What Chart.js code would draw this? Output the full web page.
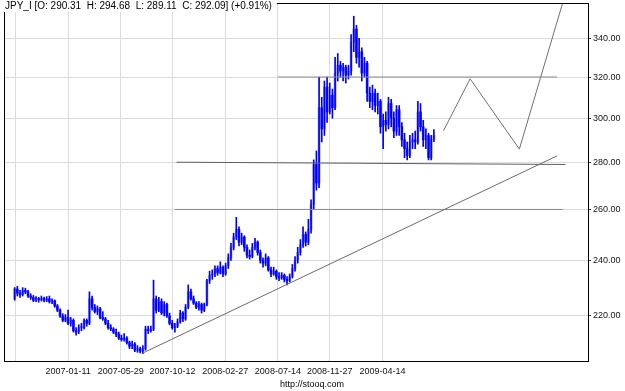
<!DOCTYPE html>
<html>
<head>
<meta charset="utf-8">
<title>JPY_I</title>
<script src="https://cdn.jsdelivr.net/npm/chart.js@4.4.0/dist/chart.umd.min.js"></script>
<style>
  html, body { margin: 0; padding: 0; background: #fff; }
</style>
</head>
<body>
<canvas id="myChart" width="625" height="391"></canvas>
<script>
// notowania tygodniowe JPY_I (pierwszy tydzien)
var firstWeek = '2006-08-24';

var openP = [
  226.0, 229.5, 228.0, 227.5, 229.0, 228.5, 227.0, 226.5, 225.5, 226.0,
  225.8, 226.2, 225.5, 226.0, 225.0, 225.3, 223.5, 222.0, 220.0, 218.5,
  219.5, 217.5, 218.5, 215.0, 214.5, 216.0, 216.0, 218.5, 217.5, 226.0,
  223.0, 221.5, 222.5, 219.5, 219.0, 217.5, 216.0, 215.5, 214.5, 213.8,
  212.5, 212.0, 212.5, 211.0, 209.8, 210.5, 208.5, 209.0, 208.2, 209.0,
  215.5, 215.0, 215.5, 226.0, 222.0, 225.0, 221.0, 224.0, 220.0, 217.5,
  216.0, 216.5, 218.0, 221.0, 219.0, 223.0, 228.5, 226.0, 224.5, 223.0,
  224.0, 222.0, 224.0, 232.5, 234.5, 235.0, 237.0, 235.5, 237.5, 235.0,
  238.0, 241.0, 245.0, 249.0, 252.0, 247.0, 249.0, 245.0, 242.0, 241.5,
  245.0, 247.0, 243.0, 240.0, 239.0, 241.0, 236.5, 235.0, 236.0, 234.0,
  233.5, 234.5, 233.0, 232.5, 234.0, 237.0, 240.0, 243.0, 246.0, 250.0,
  247.0, 252.0, 262.0, 279.0, 271.0, 305.0, 295.0, 315.0, 303.0, 311.0,
  305.0, 322.0, 326.0, 323.0, 325.0, 321.0, 323.0, 338.0, 345.0, 330.0,
  333.0, 322.0, 327.0, 312.0, 308.0, 312.0, 306.0, 308.0, 296.0, 299.0,
  297.0, 307.0, 300.0, 294.0, 304.0, 296.0, 290.0, 286.0, 283.0, 289.0,
  290.0, 289.0, 303.0, 296.0, 290.0, 292.0, 282.0, 290.31
];
var highP = [
  230.0, 230.5, 229.0, 230.0, 229.8, 229.0, 227.8, 227.2, 226.8, 226.5,
  227.0, 226.6, 226.8, 227.0, 226.0, 225.6, 224.0, 222.5, 220.8, 220.5,
  222.0, 219.5, 219.0, 216.0, 217.0, 217.5, 219.0, 219.0, 228.5, 227.0,
  224.0, 223.5, 223.0, 221.5, 219.5, 218.5, 217.0, 216.0, 215.5, 214.5,
  213.5, 214.0, 213.0, 211.5, 211.5, 211.0, 210.0, 209.5, 210.0, 216.5,
  216.5, 216.5, 232.7, 227.0, 226.5, 226.0, 225.0, 224.5, 221.0, 218.5,
  217.5, 219.0, 222.0, 221.5, 224.0, 231.0, 229.5, 227.0, 225.0, 225.0,
  224.5, 224.5, 233.0, 236.0, 236.5, 238.0, 238.0, 239.5, 238.0, 239.0,
  242.5, 246.5, 250.5, 256.8, 253.0, 250.5, 249.5, 246.0, 244.0, 246.5,
  248.5, 247.5, 244.0, 241.0, 242.5, 241.5, 237.5, 237.5, 236.5, 235.5,
  235.5, 235.0, 234.0, 235.0, 238.5, 241.5, 245.0, 248.0, 253.0, 251.0,
  256.0, 264.0, 281.0, 285.0, 320.0, 310.0, 318.0, 320.0, 317.0, 314.0,
  330.0, 332.0, 328.0, 327.0, 326.0, 326.0, 342.0, 352.0, 347.0, 340.0,
  335.0, 330.0, 328.0, 315.0, 316.0, 314.0, 312.0, 309.0, 302.0, 303.0,
  310.0, 309.0, 303.0, 306.0, 306.0, 298.0, 293.0, 289.0, 292.0, 293.0,
  294.0, 308.0, 307.0, 299.0, 295.0, 293.0, 292.0, 294.68
];
var lowP = [
  225.5, 227.0, 226.5, 227.0, 227.8, 226.5, 225.8, 225.0, 225.0, 224.8,
  225.2, 224.9, 225.0, 224.5, 224.3, 223.0, 221.5, 219.5, 218.0, 218.0,
  217.0, 216.5, 214.5, 213.5, 214.0, 215.0, 215.5, 216.5, 217.0, 222.0,
  221.0, 220.5, 219.0, 218.5, 217.0, 215.5, 215.0, 214.0, 213.0, 212.0,
  211.5, 211.5, 210.5, 209.0, 209.0, 208.0, 207.8, 207.6, 207.4, 208.5,
  214.0, 214.5, 215.0, 221.0, 221.5, 220.5, 220.0, 219.5, 217.0, 215.5,
  214.5, 216.0, 217.5, 218.0, 218.5, 222.5, 225.5, 224.0, 222.5, 222.0,
  221.0, 221.5, 223.5, 231.5, 233.0, 234.0, 234.5, 235.0, 234.0, 234.5,
  237.0, 240.0, 244.0, 248.0, 245.5, 246.0, 243.5, 241.0, 240.5, 241.0,
  244.0, 242.0, 239.0, 237.5, 238.0, 236.0, 234.0, 234.5, 233.0, 232.5,
  233.0, 232.0, 231.0, 232.0, 233.5, 236.0, 239.0, 242.0, 245.0, 245.5,
  246.0, 250.5, 260.0, 268.0, 269.0, 289.0, 292.0, 298.0, 302.0, 300.0,
  304.0, 318.0, 320.0, 318.0, 317.0, 319.0, 321.0, 333.0, 327.0, 325.0,
  318.0, 320.0, 308.0, 305.0, 304.0, 303.0, 302.0, 293.0, 286.0, 294.0,
  295.0, 296.0, 291.0, 292.0, 292.0, 287.0, 282.0, 281.0, 282.0, 286.0,
  286.0, 288.0, 294.0, 287.0, 286.0, 281.0, 281.0, 289.11
];
var closeP = [
  229.5, 228.0, 227.5, 229.0, 228.5, 227.0, 226.5, 225.5, 226.0, 225.8,
  226.2, 225.5, 226.0, 225.0, 225.3, 223.5, 222.0, 220.0, 218.5, 219.5,
  217.5, 218.5, 215.0, 214.5, 216.0, 216.0, 218.5, 217.5, 226.0, 223.0,
  221.5, 222.5, 219.5, 219.0, 217.5, 216.0, 215.5, 214.5, 213.8, 212.5,
  212.0, 212.5, 211.0, 209.8, 210.5, 208.5, 209.0, 208.2, 209.0, 215.5,
  215.0, 215.5, 226.0, 222.0, 225.0, 221.0, 224.0, 220.0, 217.5, 216.0,
  216.5, 218.0, 221.0, 219.0, 223.0, 228.5, 226.0, 224.5, 223.0, 224.0,
  222.0, 224.0, 232.5, 234.5, 235.0, 237.0, 235.5, 237.5, 235.0, 238.0,
  241.0, 245.0, 249.0, 252.0, 247.0, 249.0, 245.0, 242.0, 241.5, 245.0,
  247.0, 243.0, 240.0, 239.0, 241.0, 236.5, 235.0, 236.0, 234.0, 233.5,
  234.5, 233.0, 232.5, 234.0, 237.0, 240.0, 243.0, 246.0, 250.0, 247.0,
  252.0, 262.0, 279.0, 271.0, 305.0, 295.0, 315.0, 303.0, 311.0, 305.0,
  322.0, 326.0, 323.0, 325.0, 321.0, 323.0, 338.0, 345.0, 330.0, 333.0,
  322.0, 327.0, 312.0, 308.0, 312.0, 306.0, 308.0, 296.0, 299.0, 297.0,
  307.0, 300.0, 294.0, 304.0, 296.0, 290.0, 286.0, 283.0, 289.0, 290.0,
  289.0, 303.0, 296.0, 290.0, 292.0, 282.0, 290.31, 292.09
];

// opis osi
var tickDates = ['2006-08-26', '2007-01-11', '2007-05-29', '2007-10-12', '2008-02-27', '2008-07-14', '2008-11-27', '2009-04-14'];
var tickLabels = ['', '2007-01-11', '2007-05-29', '2007-10-12', '2008-02-27', '2008-07-14', '2008-11-27', '2009-04-14'];
var yTicks = [220, 240, 260, 280, 300, 320, 340];
var xRange = ['2006-07-27', '2010-10-05'];
var yRange = [205, 359.4];

// linie narysowane na wykresie
var trendLine = [['2007-07-23', 207.4], ['2010-07-16', 282.8]];
var level320 = [['2008-07-14', 320], ['2010-07-16', 320]];
var level280 = [['2007-10-22', 280], ['2010-08-07', 279]];
var level260 = [['2007-10-18', 260], ['2010-07-31', 260]];
var zigzag = [['2009-09-21', 294.1], ['2009-11-30', 319.1], ['2010-04-08', 285.8], ['2010-07-30', 359]];

var header = 'JPY_I [O: 290.31  H: 294.68  L: 289.11  C: 292.09] (+0.91%)';
var footer = 'http://stooq.com';

var fontFam = "Arial, 'Liberation Sans', sans-serif";

// dzien liczony od 2007-01-11
function dayNum(s) {
    var p = s.split('-');
    return (Date.UTC(+p[0], +p[1] - 1, +p[2]) - Date.UTC(2007, 0, 11)) / 86400000;
}
function toXY(arr) {
    return arr.map(function (a) { return { x: dayNum(a[0]), y: a[1] }; });
}

var start = dayNum(firstWeek);
var wicks = [], bodies = [], bodyColors = [];
for (var i = 0; i < closeP.length; i++) {
    var x = start + 7 * i;
    wicks.push({ x: x, y: [lowP[i], highP[i]] });
    bodies.push({ x: x, y: [Math.min(openP[i], closeP[i]), Math.max(openP[i], closeP[i])] });
    bodyColors.push(closeP[i] >= openP[i] ? '#8a8aff' : '#1a1aff');
}
var tickDays = tickDates.map(dayNum);

function drawLine(arr, color) {
    return {
        type: 'line', data: toXY(arr), borderColor: color, borderWidth: 1,
        pointRadius: 0, fill: false, tension: 0, order: 0
    };
}

// ramka, naglowek i stopka
var decor = {
    id: 'decor',
    afterDraw: function (chart) {
        var c = chart.ctx, a = chart.chartArea;
        c.save();
        c.strokeStyle = '#000';
        c.lineWidth = 1;
        c.strokeRect(a.left + 0.5, a.top + 0.5, a.right - a.left, a.bottom - a.top);
        c.font = '10px ' + fontFam;
        var w = c.measureText(header).width;
        c.fillStyle = '#fff';
        c.fillRect(0, 0, w + 10, 12);
        c.fillStyle = '#000';
        c.textBaseline = 'middle';
        c.textAlign = 'left';
        c.fillText(header, 5, 6);
        c.font = '9px ' + fontFam;
        c.textAlign = 'center';
        c.fillText(footer, 312, 385);
        c.restore();
    }
};

var ctx = document.getElementById('myChart').getContext('2d');
var chart = new Chart(ctx, {
    type: 'bar',
    data: {
        datasets: [
            drawLine(trendLine, '#6a6a6a'),
            drawLine(level320, '#8a8a8a'),
            drawLine(level280, '#5e5e5e'),
            drawLine(level260, '#8a8a8a'),
            drawLine(zigzag, '#707070'),
            {
                label: 'knot', data: wicks, backgroundColor: '#0000ff',
                barThickness: 1, grouped: false, order: 1
            },
            {
                label: 'korpus', data: bodies, backgroundColor: bodyColors,
                barThickness: 2, grouped: false, minBarLength: 1, order: 2
            }
        ]
    },
    options: {
        responsive: false,
        animation: false,
        layout: { padding: { left: 4, top: 3, right: 0, bottom: 0 } },
        plugins: { legend: { display: false }, tooltip: { enabled: false } },
        scales: {
            x: {
                type: 'linear',
                offset: false,
                min: dayNum(xRange[0]),
                max: dayNum(xRange[1]),
                afterBuildTicks: function (s) { s.ticks = tickDays.map(function (v) { return { value: v }; }); },
                afterFit: function (s) { s.height = 30; s.paddingLeft = 0; s.paddingRight = 0; },
                grid: { color: '#dcdcdc', drawTicks: false, offset: false },
                border: { display: false },
                ticks: {
                    autoSkip: false, maxRotation: 0, padding: 5, color: '#111',
                    font: { family: fontFam, size: 9 },
                    callback: function (v, idx) { return tickLabels[idx]; }
                }
            },
            y: {
                type: 'logarithmic',
                position: 'right',
                min: yRange[0],
                max: yRange[1],
                afterBuildTicks: function (s) { s.ticks = yTicks.map(function (v) { return { value: v }; }); },
                afterFit: function (s) { s.width = 37; s.paddingTop = 0; s.paddingBottom = 0; },
                grid: { color: '#dcdcdc', tickLength: 3, tickColor: '#444' },
                border: { display: false },
                ticks: {
                    padding: 2, color: '#111',
                    font: { family: fontFam, size: 9 },
                    callback: function (v) { return Number(v).toFixed(2); }
                }
            }
        }
    },
    plugins: [decor]
});
</script>
</body>
</html>
